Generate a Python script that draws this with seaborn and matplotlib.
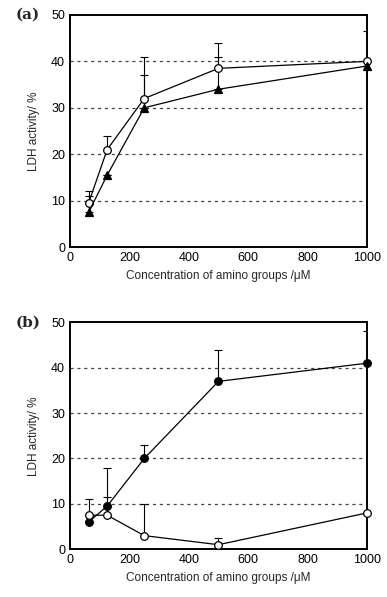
import numpy as np
import pandas as pd
import matplotlib
matplotlib.use("Agg")
import matplotlib.pyplot as plt
import seaborn as sns

conc = [62.5, 125, 250, 500, 1000]

# panel (a)
a_open = [9.5, 21, 32, 38.5, 40]
a_open_err = [2.5, 3, 9, 5.5, 6.5]
a_tri = [7.5, 15.5, 30, 34, 39]
a_tri_err = [3.5, 0, 7, 7, 0]

# panel (b)
b_filled = [6, 9.5, 20, 37, 41]
b_filled_err = [0, 8.5, 3, 7, 7]
b_open = [7.5, 7.5, 3, 1, 8]
b_open_err = [3.5, 4, 7, 1.5, 0]

sns.set_style("white")
plt.rcParams['font.family'] = ['Liberation Sans', 'DejaVu Sans']

fig = plt.figure(figsize=(3.87, 5.97), dpi=100)
ax_a = fig.add_axes([0.181, 0.586, 0.767, 0.389])
ax_b = fig.add_axes([0.181, 0.080, 0.767, 0.380])


def draw_series(ax, y, err, marker, face):
    df = pd.DataFrame({"x": conc, "y": y})
    sns.lineplot(data=df, x="x", y="y", ax=ax, color="black", lw=0.9,
                 marker=marker, markersize=5.5, markerfacecolor=face,
                 markeredgecolor="black", markeredgewidth=0.9, zorder=4,
                 clip_on=False)
    ax.errorbar(conc, y, yerr=[np.zeros(len(err)), err], fmt="none",
                ecolor="black", elinewidth=0.8, capsize=3, capthick=0.8, zorder=3)


def style_axes(ax, tag):
    ax.set_xlim(0, 1000)
    ax.set_ylim(0, 50)
    ax.set_xticks([0, 200, 400, 600, 800, 1000])
    ax.set_yticks([0, 10, 20, 30, 40, 50])
    for yv in [10, 20, 30, 40]:
        ax.axhline(yv, color="#444444", ls=(0, (2.5, 3)), lw=0.9, zorder=1)
    for s in ax.spines.values():
        s.set_linewidth(1.4)
        s.set_color("black")
    ax.tick_params(direction="in", length=2, labelsize=9, colors="black")
    ax.set_xlabel("Concentration of amino groups /\u03bcM", fontsize=8.5)
    ax.set_ylabel("LDH activity/ %", fontsize=8.5, labelpad=8)
    ax.text(-0.185, 1.0, tag, transform=ax.transAxes, fontsize=11,
            fontweight="bold", family="DejaVu Serif", va="center", ha="left")


draw_series(ax_a, a_open, a_open_err, "o", "white")
draw_series(ax_a, a_tri, a_tri_err, "^", "black")
style_axes(ax_a, "(a)")

draw_series(ax_b, b_filled, b_filled_err, "o", "black")
draw_series(ax_b, b_open, b_open_err, "o", "white")
style_axes(ax_b, "(b)")

fig.savefig("out.png", dpi=100)
